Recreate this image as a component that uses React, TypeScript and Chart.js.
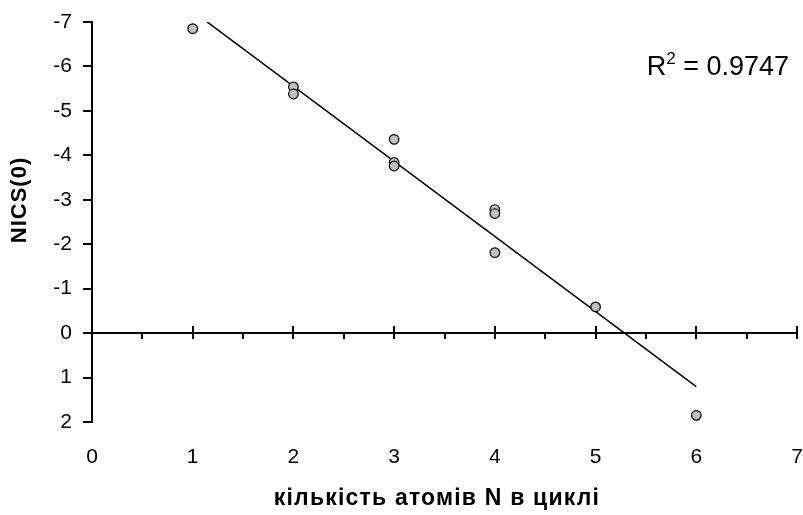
import { useEffect, useRef } from "react";
import { Chart, registerables } from "chart.js";

Chart.register(...registerables);

// ---- data ----
const atomCounts = [1, 2, 2, 3, 3, 3, 4, 4, 4, 5, 6];
const nicsValues = [-6.85, -5.54, -5.38, -4.36, -3.84, -3.76, -2.78, -2.69, -1.81, -0.59, 1.85];
const trendRange = [1, 6];
const rSquaredValue = "0.9747";
const xTitle = "кількість атомів N в циклі";
const yTitle = "NICS(0)";
const X_MIN = 0;
const X_MAX = 7;
const Y_MIN = -7;
const Y_MAX = 2;

const FONT = "'Liberation Sans', Arial, sans-serif";

function linearFit(xs: number[], ys: number[]) {
  const n = xs.length;
  const mx = xs.reduce((a, b) => a + b, 0) / n;
  const my = ys.reduce((a, b) => a + b, 0) / n;
  let sxy = 0;
  let sxx = 0;
  for (let i = 0; i < n; i++) {
    sxy += (xs[i] - mx) * (ys[i] - my);
    sxx += (xs[i] - mx) * (xs[i] - mx);
  }
  const slope = sxy / sxx;
  return { slope, intercept: my - slope * mx };
}

const axisAtZeroPlugin = {
  id: "axisAtZero",
  beforeDatasetsDraw(chart: any) {
    const { ctx, scales } = chart;
    const x = scales.x;
    const y = scales.y;
    const y0 = Math.round(y.getPixelForValue(0));
    ctx.save();
    ctx.strokeStyle = "#000";
    ctx.lineWidth = 2;
    ctx.beginPath();
    ctx.moveTo(x.left, y0);
    ctx.lineTo(x.right + 1, y0);
    for (let v = X_MIN; v <= X_MAX; v += 0.5) {
      const px = Math.round(x.getPixelForValue(v));
      const major = Number.isInteger(v);
      ctx.moveTo(px, major ? y0 - 7 : y0);
      ctx.lineTo(px, y0 + 6);
    }
    ctx.stroke();
    ctx.restore();
  },
};

const textPlugin = {
  id: "textPlugin",
  afterDraw(chart: any) {
    const { ctx } = chart;
    ctx.save();
    ctx.fillStyle = "#000";
    // R^2 annotation
    const big = `27px ${FONT}`;
    const small = `17px ${FONT}`;
    ctx.font = big;
    const wR = ctx.measureText("R").width;
    const rest = " = " + rSquaredValue;
    const wRest = ctx.measureText(rest).width;
    ctx.font = small;
    const w2 = ctx.measureText("2").width;
    const right = 789;
    const baseline = 75;
    let xs = right - (wR + w2 + wRest);
    ctx.textBaseline = "alphabetic";
    ctx.textAlign = "left";
    ctx.font = big;
    ctx.fillText("R", xs, baseline);
    xs += wR;
    ctx.font = small;
    ctx.fillText("2", xs, baseline - 11);
    xs += w2;
    ctx.font = big;
    ctx.fillText(rest, xs, baseline);

    // axis titles
    ctx.font = `bold 23px ${FONT}`;
    ctx.textAlign = "center";
    ctx.textBaseline = "middle";
    try {
      (ctx as any).letterSpacing = "1.2px";
    } catch (e) {}
    ctx.fillText(xTitle, 437, 499);
    ctx.font = `bold 22px ${FONT}`;
    try {
      (ctx as any).letterSpacing = "1px";
    } catch (e) {}
    ctx.translate(20, 200);
    ctx.rotate(-Math.PI / 2);
    ctx.fillText(yTitle, 0, 0);
    ctx.restore();
  },
};

export default function App() {
  const canvasRef = useRef<HTMLCanvasElement | null>(null);

  useEffect(() => {
    document.body.style.margin = "0";
    const canvas = canvasRef.current;
    if (!canvas) return;
    const fit = linearFit(atomCounts, nicsValues);
    const points = atomCounts.map((x, i) => ({ x, y: nicsValues[i] }));
    const trend = trendRange.map((x) => ({ x, y: fit.slope * x + fit.intercept }));

    const chart = new Chart(canvas, {
      type: "scatter",
      data: {
        datasets: [
          {
            type: "scatter",
            data: points,
            pointRadius: 4.8,
            pointBackgroundColor: "#c0c0c0",
            pointBorderColor: "#000",
            pointBorderWidth: 1.2,
            order: 0,
          },
          {
            type: "line",
            data: trend,
            borderColor: "#000",
            borderWidth: 1.5,
            pointRadius: 0,
            fill: false,
            order: 1,
          },
        ],
      } as any,
      options: {
        responsive: false,
        animation: false,
        devicePixelRatio: 1,
        layout: { padding: { top: 22, right: 6, left: 0, bottom: 0 } },
        plugins: {
          legend: { display: false },
          tooltip: { enabled: false },
        },
        scales: {
          x: {
            type: "linear",
            position: "bottom",
            min: X_MIN,
            max: X_MAX,
            grid: { display: false, drawTicks: false },
            border: { display: false },
            ticks: {
              stepSize: 1,
              color: "#000",
              font: { family: FONT, size: 21 },
              padding: 23,
              maxRotation: 0,
            },
            afterFit: (s: any) => {
              s.height = 93;
              s.paddingLeft = 0;
              s.paddingRight = 0;
            },
          },
          y: {
            type: "linear",
            reverse: true,
            min: Y_MIN,
            max: Y_MAX,
            grid: {
              drawOnChartArea: false,
              color: "#000",
              tickColor: "#000",
              tickLength: 9,
              tickWidth: 2,
              lineWidth: 2,
            },
            border: { display: true, color: "#000", width: 2 },
            ticks: {
              stepSize: 1,
              color: "#000",
              font: { family: FONT, size: 21 },
              padding: 11,
            },
            afterFit: (s: any) => {
              s.width = 92;
              s.paddingTop = 0;
              s.paddingBottom = 0;
            },
          },
        },
      } as any,
      plugins: [axisAtZeroPlugin, textPlugin],
    });
    return () => chart.destroy();
  }, []);

  return (
    <div style={{ position: "absolute", left: 0, top: 0, width: 803, height: 515, background: "#fff" }}>
      <canvas ref={canvasRef} width={803} height={515} />
    </div>
  );
}
